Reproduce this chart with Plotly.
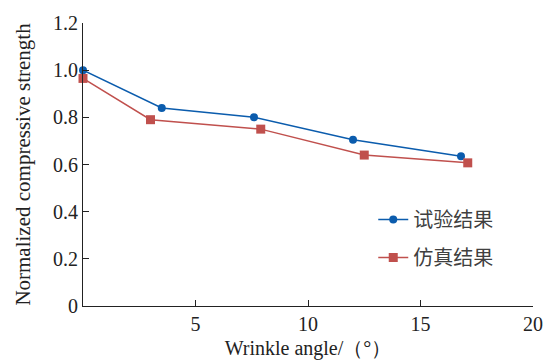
import plotly.graph_objects as go

exp_x = [0, 3.5, 7.6, 12.0, 16.8]
exp_y = [1.0, 0.84, 0.80, 0.705, 0.635]
sim_x = [0, 3.0, 7.9, 12.5, 17.1]
sim_y = [0.965, 0.79, 0.75, 0.64, 0.607]
x_ticks = [5, 10, 15, 20]
y_ticks = [0, 0.2, 0.4, 0.6, 0.8, 1.0, 1.2]
y_ticktext = ["0", "0.2", "0.4", "0.6", "0.8", "1.0", "1.2"]

serif = "Liberation Serif"
fig = go.Figure()
fig.add_trace(go.Scatter(x=exp_x, y=exp_y, name="试验结果", mode="lines+markers",
                         line=dict(color="#0b5cad", width=1.5),
                         marker=dict(symbol="circle", size=8, color="#0b5cad"),
                         legendgroup="a", cliponaxis=False))
fig.add_trace(go.Scatter(x=sim_x, y=sim_y, name="仿真结果", mode="lines+markers",
                         line=dict(color="#c0504d", width=1.5),
                         marker=dict(symbol="square", size=9, color="#c0504d"),
                         legendgroup="b", cliponaxis=False))
fig.update_layout(
    width=545, height=360,
    margin=dict(l=83, r=12, t=23, b=54),
    paper_bgcolor="white", plot_bgcolor="white",
    font=dict(family=serif, size=20, color="#222"),
    legend=dict(x=0.645, y=0.375, xanchor="left", yanchor="top",
                font=dict(family="Noto Sans CJK SC", size=20, color="#404040"),
                tracegroupgap=9, itemwidth=30, bgcolor="rgba(0,0,0,0)"),
    showlegend=True,
)
fig.update_xaxes(range=[0, 20], tickvals=x_ticks, ticks="inside", ticklen=6,
                 tickcolor="#222", showline=True, linecolor="#222", linewidth=1,
                 showgrid=False, zeroline=False, automargin=False,
                 tickfont=dict(family=serif, size=20),
                 title=dict(text="Wrinkle angle/（°）", standoff=6, font=dict(family=serif, size=20)))
fig.update_yaxes(range=[0, 1.2], tickvals=y_ticks, ticktext=y_ticktext, ticks="inside",
                 ticklen=6, tickcolor="#222", showline=True, linecolor="#222", linewidth=1,
                 showgrid=False, zeroline=False, automargin=False,
                 tickfont=dict(family=serif, size=20),
                 title=dict(text="Normalized compressive strength", standoff=16,
                            font=dict(family=serif, size=21)))
fig.write_html("out.html")
